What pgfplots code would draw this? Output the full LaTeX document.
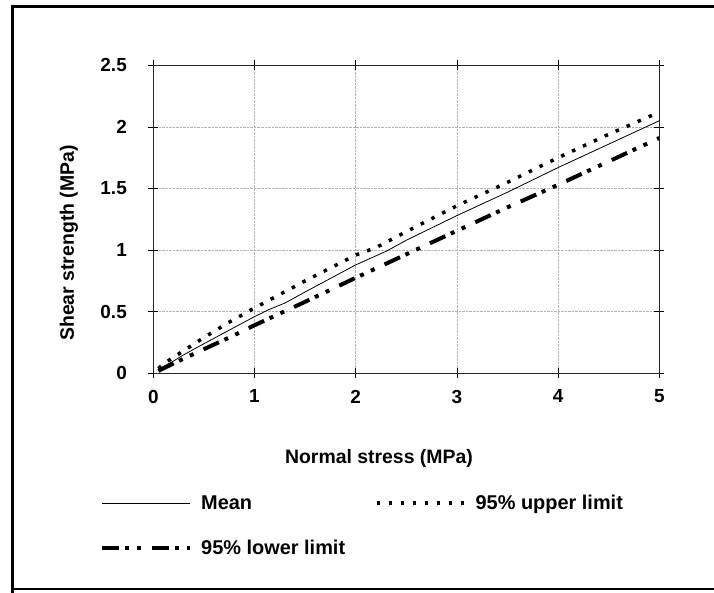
\documentclass[border=0pt]{standalone}
\usepackage{fontspec}
\setmainfont{Liberation Sans}
\usepackage{pgfplots}
\pgfplotsset{compat=1.18}
\begin{document}
\begin{tikzpicture}
\begin{axis}[
  at={(153.3bp,219.7bp)}, anchor=south west,
  scale only axis, width=506bp, height=308bp,
  xmin=0, xmax=5, ymin=0, ymax=2.5,
  xtick={0,1,2,3,4,5}, ytick={0,0.5,1,1.5,2,2.5},
  tick align=center, major tick length=10bp,
  tick style={black, line width=0.6bp},
  axis line style={black!85, line width=0.8bp},
  grid=major, major grid style={gray!60, densely dotted, line width=0.5bp},
  tick label style={font=\fontsize{19}{22}\selectfont\bfseries},
  /pgf/number format/assume math mode=true,
  xticklabel style={yshift=-8bp},
  yticklabel style={xshift=-18bp},
  label style={font=\fontsize{19.5}{22}\selectfont\bfseries},
  xlabel={Normal stress (MPa)},
  ylabel={Shear strength (MPa)},
  xlabel style={at={(axis description cs:0.446,-0.275)}, anchor=center},
  ylabel style={at={(axis description cs:-0.1666,0.423)}, anchor=center},
  legend columns=2,
  legend cell align=left,
  legend style={at={(axis description cs:-0.1053,-0.395)}, anchor=north west,
    draw=none, fill=none, inner sep=0pt, row sep=29bp,
    font=\fontsize{20}{22}\selectfont\bfseries, nodes={inner sep=0pt},
    /tikz/every even column/.append style={column sep=30bp},
    /tikz/every odd column/.append style={column sep=9bp}},
  legend image code/.code={\draw[#1] (0bp,0bp) -- (88bp,0bp);},
]
\addplot[black, line width=0.8bp] coordinates {
(0.05,0.03) (0.1,0.055) (0.2,0.10) (0.3,0.15) (0.5,0.24) (0.75,0.35) (1,0.46) (1.15,0.52) (1.3,0.57) (1.5,0.66) (1.75,0.77) (2,0.88) (2.3,0.99) (2.5,1.08) (3,1.28) (3.5,1.47) (4,1.67) (4.5,1.86) (5,2.05)};
\addlegendentry{Mean}
\addplot[black, line width=3.5bp, dash pattern=on 3.5bp off 8.5bp] coordinates {
(0.05,0.04) (0.1,0.075) (0.2,0.13) (0.5,0.29) (0.75,0.415) (1,0.53) (1.5,0.75) (2,0.96) (2.2,1.02) (2.5,1.15) (3,1.36) (3.5,1.55) (4,1.75) (4.5,1.94) (5,2.12)};
\addlegendentry{95\% upper limit}
\addplot[black, line width=4bp, dash pattern=on 17bp off 6bp on 4bp off 8bp on 4bp off 11bp] coordinates {
(0.05,0.02) (0.1,0.04) (0.2,0.08) (0.5,0.196) (0.75,0.29) (1,0.39) (1.5,0.58) (2,0.775) (2.5,0.966) (3,1.157) (3.5,1.347) (4,1.53) (4.5,1.72) (5,1.91)};
\addlegendentry{95\% lower limit}
\end{axis}
\draw[line width=3bp] (12bp,0bp) -- (12bp,586bp) -- (714bp,586bp);
\draw[line width=2bp] (12bp,4bp) -- (714bp,4bp);
\pgfresetboundingbox
\path (0bp,0bp) rectangle (714bp,593bp);
\end{tikzpicture}
\end{document}
